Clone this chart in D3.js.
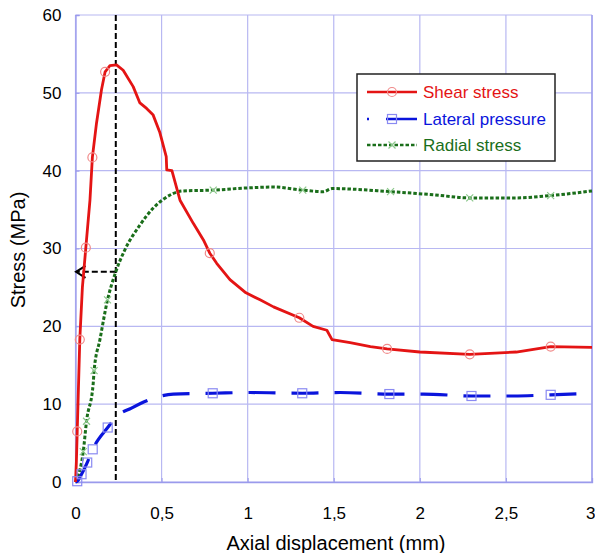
<!DOCTYPE html>
<html>
<head>
<meta charset="utf-8">
<script src="https://cdn.jsdelivr.net/npm/d3@7"></script>
<style>
  body { margin: 0; background: #fff; }
  text { font-family: "Liberation Sans", Arial, sans-serif; }
</style>
</head>
<body>
<svg id="chart" width="595" height="553"></svg>
<script>
// data (x in mm, y in MPa)
var shearX = [0, 0.005, 0.01, 0.025, 0.04, 0.06, 0.084, 0.098, 0.122, 0.151, 0.172, 0.2, 0.238, 0.277, 0.335, 0.374, 0.413, 0.45, 0.49, 0.527, 0.53, 0.56, 0.607, 0.685, 0.743, 0.78, 0.82, 0.897, 0.99, 1.072, 1.15, 1.3, 1.38, 1.46, 1.49, 1.595, 1.713, 1.81, 2.0, 2.29, 2.56, 2.76, 3.0];
var shearY = [0, 2.5, 6.5, 18.3, 25, 30.1, 36.2, 41.7, 46.1, 50.4, 52.7, 53.5, 53.6, 52.9, 50.8, 48.7, 48.0, 47.2, 44.9, 41.8, 40.1, 40.0, 36.2, 33.2, 31.1, 29.4, 28.1, 26.0, 24.3, 23.4, 22.5, 21.1, 20.0, 19.5, 18.3, 17.9, 17.4, 17.1, 16.7, 16.4, 16.7, 17.4, 17.3];
var shearMarkX = [0.01, 0.025, 0.06, 0.098, 0.172, 0.78, 1.3, 1.81, 2.29, 2.76];
var shearMarkY = [6.5, 18.3, 30.1, 41.7, 52.7, 29.4, 21.1, 17.1, 16.4, 17.4];

var latX = [0, 0.01, 0.035, 0.068, 0.1, 0.187, 0.238, 0.325, 0.432, 0.568, 0.797, 1.013, 1.317, 1.537, 1.823, 2.02, 2.3, 2.545, 2.76, 3.0];
var latY = [0, 0.1, 1.0, 2.5, 4.2, 7.0, 8.4, 9.5, 10.6, 11.3, 11.4, 11.5, 11.4, 11.5, 11.3, 11.3, 11.05, 11.05, 11.2, 11.4];
var latMarkX = [0.01, 0.035, 0.068, 0.1, 0.187, 0.797, 1.317, 1.823, 2.3, 2.76];
var latMarkY = [0.1, 1.0, 2.5, 4.2, 7.0, 11.4, 11.4, 11.3, 11.05, 11.2];

var radX = [0, 0.01, 0.045, 0.064, 0.103, 0.108, 0.142, 0.186, 0.234, 0.286, 0.374, 0.452, 0.509, 0.625, 0.8, 1.013, 1.15, 1.32, 1.44, 1.49, 1.83, 2.08, 2.29, 2.56, 2.76, 3.0];
var radY = [0, 0.5, 3.9, 7.8, 12.7, 14.3, 18.3, 23.4, 27.0, 29.8, 33.0, 35.2, 36.3, 37.4, 37.5, 37.8, 37.9, 37.5, 37.3, 37.7, 37.3, 36.9, 36.5, 36.5, 36.8, 37.4];
var radMarkX = [0.045, 0.064, 0.108, 0.186, 0.8, 1.32, 1.83, 2.29, 2.76];
var radMarkY = [3.9, 7.8, 14.3, 23.4, 37.5, 37.5, 37.3, 36.5, 36.8];

var xTicks = [0, 0.5, 1, 1.5, 2, 2.5, 3];
var xTickLabels = ['0', '0,5', '1', '1,5', '2', '2,5', '3'];
var yTicks = [0, 10, 20, 30, 40, 50, 60];

var peakX = 0.234;   // dashed guide line
var peakRadial = 27; // arrow level

var seriesNames = ['Shear stress', 'Lateral pressure', 'Radial stress'];
var red = '#e41414', blue = '#0a14dc', green = '#1a6e1a';

var svg = d3.select('#chart');
var x = d3.scaleLinear().domain([0, 3]).range([75.5, 592]);
var y = d3.scaleLinear().domain([0, 60]).range([482, 15]);

function zip(xs, ys) { return xs.map(function(v, i) { return [v, ys[i]]; }); }

// grid
var grid = svg.append('g');
grid.selectAll('.vg').data(xTicks).enter().append('line')
  .attr('x1', function(d) { return x(d); }).attr('x2', function(d) { return x(d); })
  .attr('y1', y(60)).attr('y2', y(0))
  .attr('stroke', '#b8b8f2').attr('stroke-width', 1.2);
grid.selectAll('.hg').data(yTicks).enter().append('line')
  .attr('y1', function(d) { return y(d); }).attr('y2', function(d) { return y(d); })
  .attr('x1', x(0)).attr('x2', x(3))
  .attr('stroke', '#b8b8f2').attr('stroke-width', 1.2);

// axes
var xAxis = d3.axisBottom(x).tickValues(xTicks).tickSize(-4).tickPadding(25)
  .tickFormat(function(d, i) { return xTickLabels[i]; });
var yAxis = d3.axisLeft(y).tickValues(yTicks).tickSize(-4).tickPadding(14);

var gx = svg.append('g').attr('transform', 'translate(0,' + y(0) + ')').call(xAxis);
var gy = svg.append('g').attr('transform', 'translate(' + x(0) + ',0)').call(yAxis);
[gx, gy].forEach(function(g) {
  g.select('.domain').attr('stroke', '#9a9aec').attr('stroke-width', 1.3);
  g.selectAll('.tick line').attr('stroke', '#9a9aec');
  g.selectAll('.tick text').attr('fill', '#000').style('font-size', '17px')
    .style('font-family', '"Liberation Sans", Arial, sans-serif');
});
// last x label sits at the right edge; nudge it inside the window
gx.selectAll('.tick text').filter(function(d) { return d === 3; }).attr('text-anchor', 'end').attr('x', 3);

svg.append('line').attr('x1', x(3)).attr('x2', x(3)).attr('y1', y(60)).attr('y2', y(0))
  .attr('stroke', '#9a9aec').attr('stroke-width', 1.3);

svg.append('text').attr('x', 336).attr('y', 550).attr('text-anchor', 'middle')
  .style('font-size', '20px').text('Axial displacement (mm)');
svg.append('text').attr('transform', 'translate(25,250) rotate(-90)').attr('text-anchor', 'middle')
  .style('font-size', '20px').text('Stress (MPa)');

// guide line and arrow
svg.append('line').attr('x1', x(peakX)).attr('x2', x(peakX)).attr('y1', y(60)).attr('y2', y(0))
  .attr('stroke', '#000').attr('stroke-width', 2).attr('stroke-dasharray', '6,3');
svg.append('line').attr('x1', x(peakX)).attr('x2', x(0) + 1).attr('y1', y(peakRadial)).attr('y2', y(peakRadial))
  .attr('stroke', '#000').attr('stroke-width', 2).attr('stroke-dasharray', '6,3');
svg.append('path')
  .attr('d', 'M' + (x(0) + 10) + ',' + (y(peakRadial) - 6) + 'L' + (x(0) + 0.5) + ',' + y(peakRadial) + 'L' + (x(0) + 10) + ',' + (y(peakRadial) + 6))
  .attr('fill', 'none').attr('stroke', '#000').attr('stroke-width', 2);

// lines
var line = d3.line().x(function(d) { return x(d[0]); }).y(function(d) { return y(d[1]); });
var smooth = d3.line().curve(d3.curveMonotoneX).x(function(d) { return x(d[0]); }).y(function(d) { return y(d[1]); });

svg.append('path').datum(zip(radX, radY)).attr('d', smooth)
  .attr('fill', 'none').attr('stroke', green).attr('stroke-width', 3).attr('stroke-dasharray', '3.5,2');
svg.append('path').datum(zip(latX, latY)).attr('d', smooth)
  .attr('fill', 'none').attr('stroke', blue).attr('stroke-width', 3.2).attr('stroke-dasharray', '27,16');
svg.append('path').datum(zip(shearX, shearY)).attr('d', line)
  .attr('fill', 'none').attr('stroke', red).attr('stroke-width', 2.8).attr('stroke-linejoin', 'round');

// markers
svg.selectAll('.sm').data(zip(shearMarkX, shearMarkY)).enter().append('circle')
  .attr('cx', function(d) { return x(d[0]); }).attr('cy', function(d) { return y(d[1]); })
  .attr('r', 4.5).attr('fill', 'none').attr('stroke', '#f08a8a').attr('stroke-width', 1.2);
svg.selectAll('.lm').data(zip(latMarkX, latMarkY)).enter().append('rect')
  .attr('x', function(d) { return x(d[0]) - 4.5; }).attr('y', function(d) { return y(d[1]) - 4.5; })
  .attr('width', 9).attr('height', 9).attr('fill', 'none').attr('stroke', '#8a8af2').attr('stroke-width', 1.2);
svg.selectAll('.rm').data(zip(radMarkX, radMarkY)).enter().append('path')
  .attr('d', function(d) {
    var cx = x(d[0]), cy = y(d[1]), s = 3.5;
    return 'M' + (cx - s) + ',' + (cy - s) + 'L' + (cx + s) + ',' + (cy + s) + 'M' + (cx - s) + ',' + (cy + s) + 'L' + (cx + s) + ',' + (cy - s);
  })
  .attr('fill', 'none').attr('stroke', '#8cc88c').attr('stroke-width', 1.2);

// legend
var lg = svg.append('g');
lg.append('rect').attr('x', 357).attr('y', 74).attr('width', 198).attr('height', 87)
  .attr('fill', '#fff').attr('stroke', '#222').attr('stroke-width', 1.5);
var rows = [92, 119, 145];
var colors = [red, blue, green];
rows.forEach(function(ry, i) {
  var l = lg.append('line').attr('x1', 367).attr('x2', 417).attr('y1', ry).attr('y2', ry)
    .attr('stroke', colors[i]);
  if (i === 0) l.attr('stroke-width', 2.5);
  if (i === 1) l.attr('stroke-width', 2.5).attr('stroke-dasharray', '2,17,40');
  if (i === 2) l.attr('stroke-width', 2.5).attr('stroke-dasharray', '3.5,2');
  lg.append('text').attr('x', 423).attr('y', ry + 6).attr('fill', colors[i])
    .style('font-size', '17px').text(seriesNames[i]);
});
lg.append('circle').attr('cx', 392).attr('cy', rows[0]).attr('r', 4.5)
  .attr('fill', 'none').attr('stroke', '#f08a8a').attr('stroke-width', 1.2);
lg.append('rect').attr('x', 387.5).attr('y', rows[1] - 4.5).attr('width', 9).attr('height', 9)
  .attr('fill', 'none').attr('stroke', '#8a8af2').attr('stroke-width', 1.2);
lg.append('path').attr('d', 'M388.5,' + (rows[2] - 3.5) + 'L395.5,' + (rows[2] + 3.5) + 'M388.5,' + (rows[2] + 3.5) + 'L395.5,' + (rows[2] - 3.5))
  .attr('fill', 'none').attr('stroke', '#8cc88c').attr('stroke-width', 1.2);
</script>
</body>
</html>
